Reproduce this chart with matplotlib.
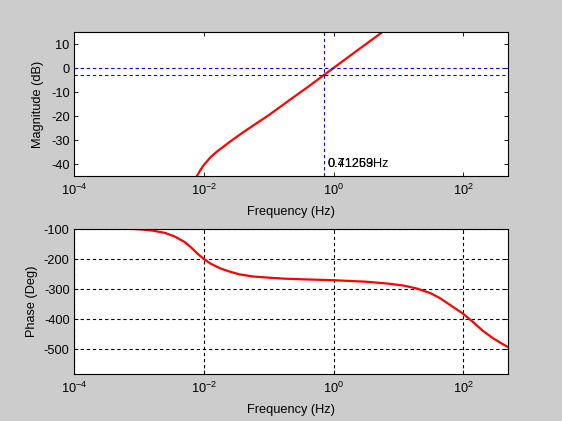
import matplotlib
matplotlib.use("Agg")
import matplotlib.pyplot as plt
import numpy as np

plt.rcParams['font.family'] = ['Liberation Sans', 'DejaVu Sans']
plt.rcParams['mathtext.fontset'] = 'custom'
plt.rcParams['mathtext.rm'] = 'Liberation Sans'
plt.rcParams['axes.unicode_minus'] = False

# ---- data ----
mag_logf = [-2.14, -2.107, -2.05, -2.005, -1.90, -1.797, -1.55, -1.333, -1.0, -0.689, -0.40, -0.156, -0.005, 0.35, 0.75]
mag_db = [-46.5, -44.9, -42.3, -40.5, -37.2, -34.75, -29.7, -25.6, -19.6, -13.5, -7.9, -3.0, 0.0, 7.1, 15.0]

ph_logf = [-3.4, -3.0, -2.8, -2.6, -2.45, -2.3, -2.2, -2.1, -2.0, -1.9, -1.75, -1.6, -1.45, -1.25, -1.0,
           -0.75, -0.4, 0.0, 0.5, 0.85, 1.1, 1.3, 1.5, 1.65, 1.8, 2.0, 2.15, 2.3, 2.45, 2.6, 2.72]
ph_deg = [-96, -100, -104, -112, -124, -142, -160, -181, -199, -214, -230, -241, -250, -257, -261,
          -264.5, -267, -269.5, -274.5, -281, -288, -298, -313, -330, -352, -381, -408, -437, -461, -481, -495]

f_cross = 0.71263
mag_ref_lines = [0, -3]
cross_labels = ["0.71263Hz", "0.41259"]

xticks = [1e-4, 1e-2, 1e0, 1e2]
xtick_labels = [r'$\mathregular{10^{-4}}$', r'$\mathregular{10^{-2}}$', r'$\mathregular{10^{0}}$', r'$\mathregular{10^{2}}$']
mag_yticks = [10, 0, -10, -20, -30, -40]
ph_yticks = [-100, -200, -300, -400, -500]

mag_f = [10 ** v for v in mag_logf]
ph_f = [10 ** v for v in ph_logf]

FS = 9.2

fig = plt.figure(figsize=(5.62, 4.21), dpi=100, facecolor='#cccccc')
ax1 = fig.add_axes([0.1324, 0.5819, 0.7721, 0.3414])
ax2 = fig.add_axes([0.1324, 0.1116, 0.7721, 0.3437])

for ax in (ax1, ax2):
    ax.set_xscale('log')
    ax.set_xlim(1e-4, 500)
    ax.set_xticks(xticks)
    ax.set_xticklabels(xtick_labels)
    ax.xaxis.set_minor_locator(matplotlib.ticker.NullLocator())
    ax.tick_params(direction='in', top=True, right=True, length=3, width=0.6, labelsize=FS, colors='black')
    ax.tick_params(axis='x', pad=5)
    for s in ax.spines.values():
        s.set_linewidth(0.8)
    ax.set_xlabel('Frequency (Hz)', fontsize=FS, labelpad=6)

# magnitude
ax1.plot(mag_f, mag_db, color='#ff0000', lw=1.6, solid_joinstyle='round')
for yv in mag_ref_lines:
    ax1.axhline(yv, color='#0000ff', lw=0.8, dashes=(3, 2.5))
ax1.axvline(f_cross, color='#0000ff', lw=0.8, dashes=(3, 2.5))
ax1.set_ylim(-45, 15)
ax1.set_yticks(mag_yticks)
ax1.set_ylabel('Magnitude (dB)', fontsize=FS, labelpad=5)
ax1.text(f_cross * 1.12, -40, cross_labels[0], fontsize=FS, va='center', ha='left', color='black')
ax1.text(f_cross * 1.12, -40, cross_labels[1], fontsize=FS, va='center', ha='left', color='black')

# phase
ax2.plot(ph_f, ph_deg, color='#ff0000', lw=1.6, solid_joinstyle='round')
ax2.set_ylim(-582, -100)
ax2.set_yticks(ph_yticks)
ax2.grid(True, which='major', color='black', lw=0.8, dashes=(3, 2.5))
ax2.set_ylabel('Phase (Deg)', fontsize=FS, labelpad=4)

fig.savefig('out.png', dpi=100, facecolor=fig.get_facecolor())
